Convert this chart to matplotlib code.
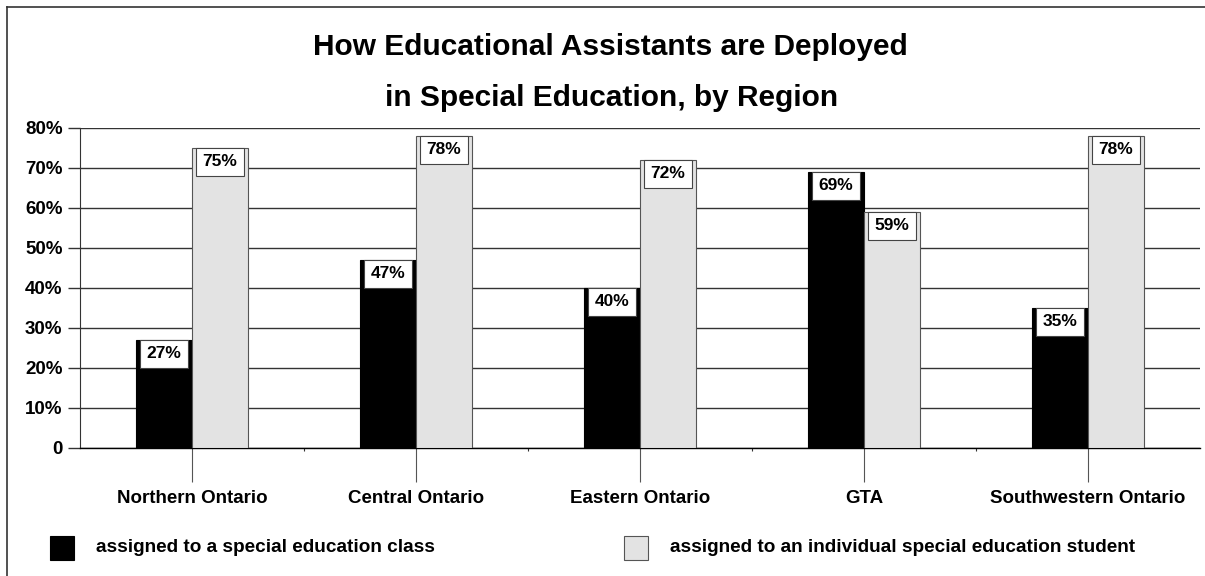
import numpy as np
import matplotlib.pyplot as plt
from matplotlib.patches import Rectangle
from matplotlib.lines import Line2D

plt.rcParams['font.family'] = ['Liberation Sans', 'DejaVu Sans']
plt.rcParams['font.weight'] = 'bold'

regions = ["Northern Ontario", "Central Ontario", "Eastern Ontario", "GTA",
           "Southwestern Ontario"]
class_pct = [27, 47, 40, 69, 35]
student_pct = [75, 78, 72, 59, 78]
series_names = ["assigned to a special education class",
                "assigned to an individual special education student"]
yticks = [0, 10, 20, 30, 40, 50, 60, 70, 80]
ytick_labels = ["0"] + [f"{v}%" for v in yticks[1:]]

W, H = 1205, 576
fig = plt.figure(figsize=(W / 100, H / 100), dpi=100)
ax = fig.add_axes([80 / W, (H - 448) / H, 1120 / W, 320 / H])

grey = "#e3e3e3"
dark = "#333333"
x = np.arange(len(regions))
bw = 0.25

ax.bar(x - bw / 2, class_pct, bw, color="black", edgecolor="black",
       linewidth=0.8, zorder=3)
ax.bar(x + bw / 2, student_pct, bw, color=grey, edgecolor="#555555",
       linewidth=0.8, zorder=3)

# value boxes hanging from the top of each bar
box_w, box_h = 0.214, 7.0
for xs, vals in ((x - bw / 2, class_pct), (x + bw / 2, student_pct)):
    for xi, v in zip(xs, vals):
        ax.add_patch(Rectangle((xi - box_w / 2, v - box_h), box_w, box_h,
                               facecolor="white", edgecolor="#444444",
                               linewidth=0.8, zorder=4))
        ax.text(xi, v - box_h / 2, f"{v}%", ha="center", va="center",
                fontsize=12.5, fontweight="bold", zorder=5)

ax.set_xlim(-0.5, len(regions) - 0.5)
ax.set_ylim(0, 80)
ax.set_yticks(yticks)
ax.set_yticklabels(ytick_labels)
ax.yaxis.grid(True, color=dark, linewidth=1.0, zorder=0)
ax.set_axisbelow(True)
ax.tick_params(axis="y", length=8.6, width=1.0, color=dark, pad=4,
               labelsize=13.5)

ax.set_xticks(x)
ax.set_xticklabels(regions)
ax.set_xticks(x[:-1] + 0.5, minor=True)
ax.tick_params(axis="x", which="major", length=24.5, width=0.8, color="#555555",
               pad=6, labelsize=13.5)
ax.tick_params(axis="x", which="minor", length=2, width=0.8, color=dark)

for side in ("top", "right"):
    ax.spines[side].set_visible(False)
ax.spines["left"].set_color(dark)
ax.spines["left"].set_linewidth(0.8)
ax.spines["bottom"].set_color("black")
ax.spines["bottom"].set_linewidth(1.0)

# title in two lines
fig.text(610 / W, 1 - 47 / H, "How Educational Assistants are Deployed",
         ha="center", va="center", fontsize=21.5, fontweight="bold")
fig.text(612 / W, 1 - 98 / H, "in Special Education, by Region",
         ha="center", va="center", fontsize=21.5, fontweight="bold")

# legend row under the plot
for (sx, tx), color, ec, name in zip(((50, 96), (624, 670)),
                                     ("black", grey), ("black", "#555555"),
                                     series_names):
    fig.add_artist(Rectangle((sx / W, 1 - 560 / H), 24 / W, 24 / H,
                             facecolor=color, edgecolor=ec, linewidth=0.8,
                             transform=fig.transFigure))
    fig.text(tx / W, 1 - 548 / H, name, ha="left", va="center",
             fontsize=13.7, fontweight="bold")

# frame around the chart (top and left edges)
fig.add_artist(Line2D([6.5 / W, 6.5 / W], [0, 1 - 7 / H], color=dark,
                      linewidth=1.2, transform=fig.transFigure))
fig.add_artist(Line2D([6.5 / W, 1], [1 - 7 / H, 1 - 7 / H], color=dark,
                      linewidth=1.2, transform=fig.transFigure))

fig.savefig("out.png", dpi=100)
